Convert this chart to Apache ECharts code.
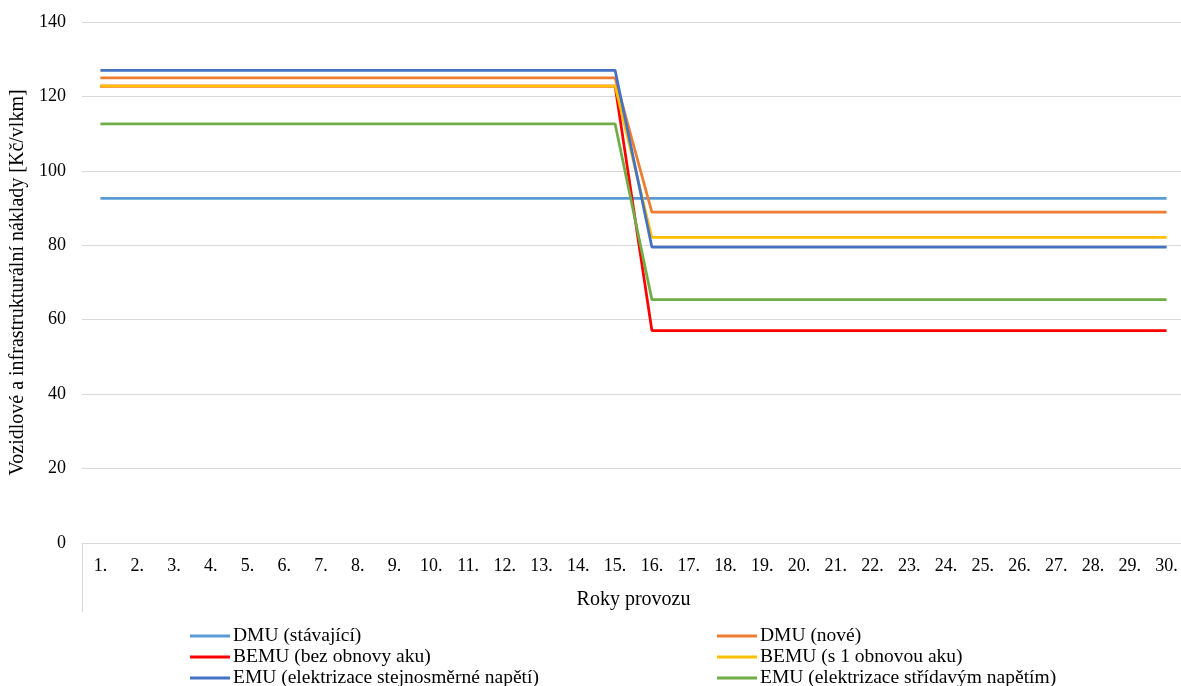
<!DOCTYPE html>
<html>
<head>
<meta charset="utf-8">
<title>Vozidlové a infrastrukturální náklady</title>
<script src="https://cdn.jsdelivr.net/npm/echarts@6/dist/echarts.min.js"></script>
<style>
  html, body { margin: 0; padding: 0; background: #fff; }
  #chart { width: 1181px; height: 686px; }
</style>
</head>
<body>
<div id="chart"></div>
<script>
// Roky provozu 1.–30.
const years = Array.from({ length: 30 }, (_, i) => (i + 1) + '.');

const yTicks = { min: 0, max: 140, interval: 20 };

// Náklady [Kč/vlkm] — years 1–15 and 16–30
const dmuStavajici = [
  92.6, 92.6, 92.6, 92.6, 92.6, 92.6, 92.6, 92.6, 92.6, 92.6, 92.6, 92.6, 92.6, 92.6, 92.6,
  92.6, 92.6, 92.6, 92.6, 92.6, 92.6, 92.6, 92.6, 92.6, 92.6, 92.6, 92.6, 92.6, 92.6, 92.6
];
const dmuNove = [
  125, 125, 125, 125, 125, 125, 125, 125, 125, 125, 125, 125, 125, 125, 125,
  88.9, 88.9, 88.9, 88.9, 88.9, 88.9, 88.9, 88.9, 88.9, 88.9, 88.9, 88.9, 88.9, 88.9, 88.9
];
const bemuBezObnovy = [
  122.8, 122.8, 122.8, 122.8, 122.8, 122.8, 122.8, 122.8, 122.8, 122.8, 122.8, 122.8, 122.8, 122.8, 122.8,
  57.1, 57.1, 57.1, 57.1, 57.1, 57.1, 57.1, 57.1, 57.1, 57.1, 57.1, 57.1, 57.1, 57.1, 57.1
];
const bemuObnova1 = [
  122.8, 122.8, 122.8, 122.8, 122.8, 122.8, 122.8, 122.8, 122.8, 122.8, 122.8, 122.8, 122.8, 122.8, 122.8,
  82.1, 82.1, 82.1, 82.1, 82.1, 82.1, 82.1, 82.1, 82.1, 82.1, 82.1, 82.1, 82.1, 82.1, 82.1
];
const emuDC = [
  127, 127, 127, 127, 127, 127, 127, 127, 127, 127, 127, 127, 127, 127, 127,
  79.5, 79.5, 79.5, 79.5, 79.5, 79.5, 79.5, 79.5, 79.5, 79.5, 79.5, 79.5, 79.5, 79.5, 79.5
];
const emuAC = [
  112.6, 112.6, 112.6, 112.6, 112.6, 112.6, 112.6, 112.6, 112.6, 112.6, 112.6, 112.6, 112.6, 112.6, 112.6,
  65.4, 65.4, 65.4, 65.4, 65.4, 65.4, 65.4, 65.4, 65.4, 65.4, 65.4, 65.4, 65.4, 65.4, 65.4
];

const seriesDefs = [
  { name: 'DMU (stávající)', data: dmuStavajici, color: '#5B9BD5' },
  { name: 'DMU (nové)', data: dmuNove, color: '#ED7D31' },
  { name: 'BEMU (bez obnovy aku)', data: bemuBezObnovy, color: '#FF0000' },
  { name: 'BEMU (s 1 obnovou aku)', data: bemuObnova1, color: '#FFC000' },
  { name: 'EMU (elektrizace stejnosměrné napětí)', data: emuDC, color: '#4472C4' },
  { name: 'EMU (elektrizace střídavým napětím)', data: emuAC, color: '#70AD47' }
];

const FONT = '"Liberation Serif", "Times New Roman", serif';
const TXT = '#000';

const legendBase = {
  orient: 'vertical',
  top: 626,
  height: 70,
  padding: 0,
  itemWidth: 40,
  itemHeight: 3,
  itemGap: 1,
  icon: 'rect',
  textStyle: { fontFamily: FONT, fontSize: 19.5, color: TXT, padding: [0, 0, 0, -2] }
};

const chart = echarts.init(document.getElementById('chart'), null, { renderer: 'canvas' });
chart.setOption({
  animation: false,
  backgroundColor: '#fff',
  grid: { left: 82, right: -4, top: 22, bottom: 143, containLabel: false, outerBoundsMode: 'none' },
  legend: [
    Object.assign({}, legendBase, { left: 190, data: [seriesDefs[0].name, seriesDefs[2].name, seriesDefs[4].name] }),
    Object.assign({}, legendBase, { left: 717, data: [seriesDefs[1].name, seriesDefs[3].name, seriesDefs[5].name] })
  ],
  xAxis: {
    type: 'category',
    data: years,
    boundaryGap: true,
    name: 'Roky provozu',
    nameLocation: 'middle',
    nameGap: 47,
    nameTextStyle: { fontFamily: FONT, fontSize: 20, color: TXT },
    axisLine: { show: true, lineStyle: { color: '#d9d9d9', width: 1 } },
    axisTick: {
      show: true,
      length: 69,
      interval: (i) => i === 0,
      lineStyle: { color: '#d9d9d9', width: 1 }
    },
    axisLabel: { fontFamily: FONT, fontSize: 18, color: TXT, margin: 14, interval: 0 },
    splitLine: { show: false }
  },
  yAxis: {
    type: 'value',
    min: yTicks.min,
    max: yTicks.max,
    interval: yTicks.interval,
    name: 'Vozidlové a infrastrukturální náklady [Kč/vlkm]',
    nameLocation: 'middle',
    nameGap: 47,
    nameRotate: 90,
    nameTextStyle: { fontFamily: FONT, fontSize: 20, color: TXT },
    axisLine: { show: false },
    axisTick: { show: false },
    axisLabel: { fontFamily: FONT, fontSize: 18, color: TXT, margin: 16 },
    splitLine: { lineStyle: { color: '#d9d9d9', width: 1 } }
  },
  series: seriesDefs.map(s => ({
    name: s.name,
    type: 'line',
    data: s.data,
    symbol: 'none',
    showSymbol: false,
    color: s.color,
    lineStyle: { color: s.color, width: 2.75 },
    itemStyle: { color: s.color },
    emphasis: { disabled: true }
  }))
});
</script>
</body>
</html>
